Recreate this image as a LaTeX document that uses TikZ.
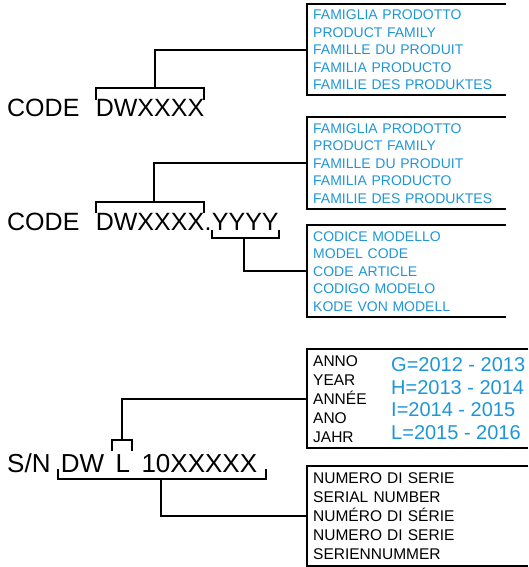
\documentclass[tikz,border=0pt]{standalone}
\usepackage{fontspec}
\setmainfont{Liberation Sans}
\usepackage{xcolor}
\usetikzlibrary{positioning}
\definecolor{codeblue}{RGB}{30,150,214}

\begin{document}
\begin{tikzpicture}[
        x=1pt, y=-1pt,
        part/.style={inner sep=0pt, font=\fontsize{25}{30}\selectfont},
        snpart/.style={inner sep=0pt, font=\fontsize{26}{31}\selectfont},
        infobox/.style={inner xsep=6pt, inner ysep=0pt, anchor=north west, align=left},
        bluebox/.style={infobox, text=codeblue, text width=187pt, minimum height=92pt, font=\fontsize{14}{17.5}\selectfont},
        blackbox/.style={infobox, text width=209pt, minimum height=100pt, font=\fontsize{15.5}{19}\selectfont},
        years/.style={inner sep=0pt, anchor=west, align=left, text=codeblue, font=\fontsize{20}{22.5}\selectfont},
        frame/.style={line width=2pt},
        link/.style={line width=2pt}
    ]
    \useasboundingbox (0,0) rectangle (528,567);

    % First code
    \node[part, anchor=base west] (code1) at (7,117) {CODE};
    \node[part, base right=16pt of code1] (fam1) {DWXXXX};
    \node[bluebox, minimum height=91pt] (box1) at (307,4) {FAMIGLIA PRODOTTO\\PRODUCT FAMILY\\FAMILLE DU PRODUIT\\FAMILIA PRODUCTO\\FAMILIE DES PRODUKTES};
    \draw[frame] (box1.north east) -- (box1.north west) -- (box1.south west) -- (box1.south east);
    \draw[link] (fam1.north west) -- ++(0,-12) -| (fam1.north east);
    \coordinate (brk1) at (155,87);
    \draw[link] (brk1) |- (box1.west);

    % Second code
    \node[part, anchor=base west] (code2) at (7,230) {CODE};
    \node[part, base right=16pt of code2] (fam2) {DWXXXX};
    \node[part, base right=0pt of fam2] (dot2) {.};
    \node[part, base right=0pt of dot2] (mod2) {YYYY};
    \node[bluebox] (box2) at (307,117) {FAMIGLIA PRODOTTO\\PRODUCT FAMILY\\FAMILLE DU PRODUIT\\FAMILIA PRODUCTO\\FAMILIE DES PRODUKTES};
    \node[bluebox] (box3) at (307,225) {CODICE MODELLO\\MODEL CODE\\CODE ARTICLE\\CODIGO MODELO\\KODE VON MODELL};
    \draw[frame] (box2.north east) -- (box2.north west) -- (box2.south west) -- (box2.south east);
    \draw[frame] (box3.north east) -- (box3.north west) -- (box3.south west) -- (box3.south east);
    \draw[link] (fam2.north west) -- ++(0,-11) -| (fam2.north east);
    \draw[link] (mod2.south west) -- ++(0,8) -| (mod2.south east);
    \coordinate (brk2) at (154,201);
    \coordinate (brk3) at (244,238);
    \draw[link] (brk2) |- (box2.west);
    \draw[link] (brk3) |- (box3.west);

    % Serial number
    \node[snpart, anchor=base west] (sn) at (7,472) {S/N};
    \node[snpart, base right=10pt of sn] (dw3) {DW};
    \node[snpart, base right=11pt of dw3] (let3) {L};
    \node[snpart, base right=11pt of let3] (num3) {10XXXXX};
    \node[blackbox, minimum height=99pt] (box4) at (307,349) {ANNO\\YEAR\\ANNÉE\\ANO\\JAHR};
    \node[years, right=84pt of box4.west] (yrs) {G=2012 - 2013\\H=2013 - 2014\\I=2014 - 2015\\L=2015 - 2016};
    \node[blackbox] (box5) at (307,466) {NUMERO DI SERIE\\SERIAL NUMBER\\NUMÉRO DI SÉRIE\\NUMERO DI SERIE\\SERIENNUMMER};
    \draw[frame] (box4.north east) -- (box4.north west) -- (box4.south west) -- (box4.south east);
    \draw[frame] (box5.north east) -- (box5.north west) -- (box5.south west) -- (box5.south east);
    \draw[link] (112,451) -- (112,440) -| (132,451);
    \draw[link] (58,469) -- (58,479) -| (266,469);
    \coordinate (brk4) at (122,440);
    \coordinate (brk5) at (161,479);
    \draw[link] (brk4) |- (box4.west);
    \draw[link] (brk5) |- (box5.west);

\end{tikzpicture}
\end{document}
